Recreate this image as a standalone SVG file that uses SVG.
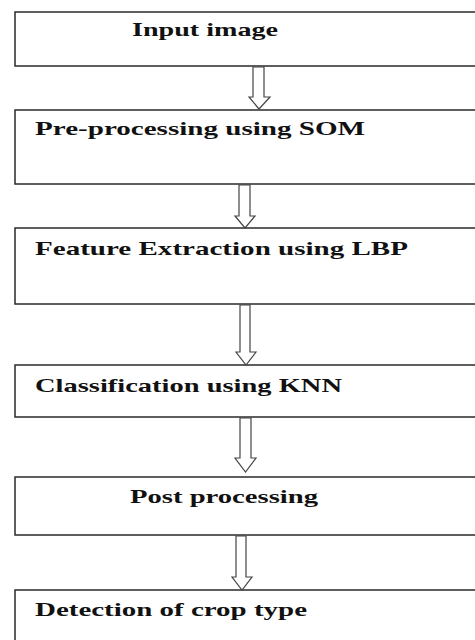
<svg xmlns="http://www.w3.org/2000/svg" width="475" height="640" viewBox="0 0 475 640">
<style>
.box{fill:#ffffff;stroke:#2a2a2a;stroke-width:1.5}
.lbl{font-family:"Liberation Serif","Times New Roman",serif;font-weight:bold;font-size:19px;fill:#111}
.arr{fill:#ffffff;stroke:#444;stroke-width:1.2;stroke-linejoin:miter}
</style>
<rect width="475" height="640" fill="#ffffff"/>
<g id="node-input">
<rect class="box" x="15" y="12" width="470" height="54"/>
<text class="lbl" x="132" y="36" textLength="146" lengthAdjust="spacingAndGlyphs">Input image</text>
</g>
<g id="node-preprocessing">
<rect class="box" x="15" y="110" width="470" height="74"/>
<text class="lbl" x="35" y="135" textLength="330" lengthAdjust="spacingAndGlyphs">Pre-processing using SOM</text>
</g>
<g id="node-feature">
<rect class="box" x="15" y="228" width="470" height="76"/>
<text class="lbl" x="35" y="255" textLength="373" lengthAdjust="spacingAndGlyphs">Feature Extraction using LBP</text>
</g>
<g id="node-classification">
<rect class="box" x="15" y="365" width="470" height="52"/>
<text class="lbl" x="35" y="392" textLength="307" lengthAdjust="spacingAndGlyphs">Classification using KNN</text>
</g>
<g id="node-post">
<rect class="box" x="15" y="477" width="470" height="58"/>
<text class="lbl" x="130" y="503" textLength="188" lengthAdjust="spacingAndGlyphs">Post processing</text>
</g>
<g id="node-detection">
<rect class="box" x="15" y="590" width="470" height="70"/>
<text class="lbl" x="35" y="616" textLength="272" lengthAdjust="spacingAndGlyphs">Detection of crop type</text>
</g>
<g id="connectors">
<path class="arr" d="M253,67 L264,67 L264,97 L270,97 L259,109 L249,97 L253,97 Z"/>
<path class="arr" d="M239,185 L250,185 L250,216 L255,216 L245,228 L235,216 L239,216 Z"/>
<path class="arr" d="M240,305 L250,305 L250,352 L256,352 L246,365 L236,352 L240,352 Z"/>
<path class="arr" d="M240,418 L251,418 L251,458 L256,458 L245.5,472 L235,458 L240,458 Z"/>
<path class="arr" d="M236,536 L246,536 L246,577 L252,577 L242,590 L232,577 L236,577 Z"/>
</g>
</svg>
